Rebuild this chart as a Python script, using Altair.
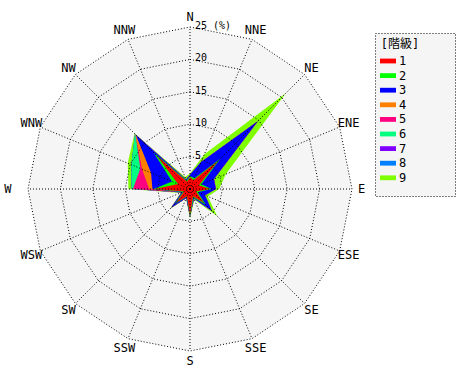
import altair as alt
import pandas as pd
import numpy as np

directions = ["N", "NNE", "NE", "ENE", "E", "ESE", "SE", "SSE",
              "S", "SSW", "SW", "WSW", "W", "WNW", "NW", "NNW"]
classes = ["1", "2", "3", "4", "5", "6", "7", "8", "9"]
colors = ["#ff0000", "#00ff00", "#0000ff", "#ff8000", "#ff0080",
          "#00ff80", "#8000ff", "#0080ff", "#80ff00"]
ring_levels = [5, 10, 15, 20, 25]
ring_labels = ["5", "10", "15", "20", "25 (%)"]
legend_title = "[階級]"

# frequency (%) of each class by direction (N, NNE, ... NNW)
c1 = [1.8, 1.5, 6.1, 1.5, 3.1, 1.0, 3.0, 1.2, 4.0, 1.2, 3.0, 1.0, 5.4, 2.0, 7.2, 1.2]
c2 = [0.2, 0.3, 0.5, 0.4, 0.2, 0.3, 0.5, 0.2, 0.3, 0.1, 0.3, 0.2, 0.2, 1.0, 0.7, 0.2]
c3 = [0.2, 2.7, 8.2, 2.1, 0.7, 1.2, 1.3, 0.2, 0.0, 0.2, 0.8, 0.2, 0.2, 3.5, 3.9, 0.2]
c4 = [0.0, 0.0, 0.0, 0.0, 0.0, 0.0, 0.0, 0.0, 0.0, 0.0, 0.0, 0.0, 0.5, 1.5, 0.1, 0.0]
c5 = [0.0, 0.0, 0.0, 0.0, 0.0, 0.0, 0.0, 0.0, 0.0, 0.0, 0.0, 0.0, 2.5, 0.3, 0.0, 0.0]
c6 = [0.0, 0.0, 0.0, 0.0, 0.0, 0.0, 0.0, 0.0, 0.0, 0.0, 0.0, 0.0, 0.2, 1.5, 0.1, 0.0]
c7 = [0.0, 0.0, 0.0, 0.0, 0.0, 0.0, 0.0, 0.0, 0.0, 0.0, 0.0, 0.0, 0.0, 0.0, 0.0, 0.0]
c8 = [0.0, 0.0, 0.0, 0.0, 0.0, 0.0, 0.0, 0.0, 0.0, 0.0, 0.0, 0.0, 0.0, 0.0, 0.0, 0.0]
c9 = [0.2, 1.3, 6.1, 2.0, 0.5, 0.5, 1.1, 0.2, 0.2, 0.1, 0.2, 0.2, 0.5, 0.6, 0.1, 0.4]
series = [c1, c2, c3, c4, c5, c6, c7, c8, c9]

FONT = "DejaVu Sans Mono, Noto Sans CJK JP, monospace"

# stacked (cumulative) table
rows = []
cum = np.zeros(len(directions))
for k, vals in enumerate(series):
    cum = cum + np.array(vals, dtype=float)
    for i, d in enumerate(directions):
        rows.append({"cls": classes[k], "k": k, "dir": d, "idx": i, "r": float(cum[i])})
df = pd.DataFrame(rows)

ring_df = pd.DataFrame([{"lvl": L, "idx": i} for L in ring_levels for i in range(len(directions))])
dir_df = pd.DataFrame({"dir": directions, "idx": list(range(len(directions)))})
tick_df = pd.DataFrame({"lvl": ring_levels, "label": ring_labels})

xs = alt.Scale(domain=[-25, 25])
ys = alt.Scale(domain=[-25, 25])
X = lambda f: alt.X(f, type="quantitative", scale=xs, axis=None)
Y = lambda f: alt.Y(f, type="quantitative", scale=ys, axis=None)

# legend frame and title (decoration, drawn in pixel space beneath the legend)
one = pd.DataFrame({"t": [legend_title]})
legend_box = alt.Chart(one).mark_rect(
    fill="#f5f5f5", stroke="black", strokeWidth=1, strokeDash=[1, 2]
).encode(x=alt.value(347.5), x2=alt.value(427.5), y=alt.value(6.5), y2=alt.value(169.5))
legend_ttl = alt.Chart(one).mark_text(
    font=FONT, fontSize=12, color="black", align="center", baseline="middle"
).encode(x=alt.value(372), y=alt.value(16.5), text="t:N")

# background polygon
bg = alt.Chart(ring_df).transform_filter(alt.datum.lvl == 25).transform_calculate(
    x="datum.lvl*sin(datum.idx*PI/8)", y="datum.lvl*cos(datum.idx*PI/8)"
).mark_line(filled=True, interpolate="linear-closed", fill="#f5f5f5", strokeWidth=0).encode(
    x=X("x"), y=Y("y"), order="idx:Q")

# class polygons, largest cumulative first
layers = []
for k in reversed(range(len(classes))):
    layers.append(
        alt.Chart(df).transform_filter(alt.datum.k == k).transform_calculate(
            x="datum.r*sin(datum.idx*PI/8)", y="datum.r*cos(datum.idx*PI/8)"
        ).mark_line(filled=True, interpolate="linear-closed", strokeWidth=0).encode(
            x=X("x"), y=Y("y"), order="idx:Q",
            color=alt.Color("cls:N", scale=alt.Scale(domain=classes, range=colors),
                            legend=alt.Legend(
                                title=None,
                                orient="none", legendX=349, legendY=23,
                                symbolType="M-1,-0.3L1,-0.3L1,0.3L-1,0.3Z",
                                symbolSize=256, symbolStrokeWidth=0,
                                rowPadding=0.6, labelOffset=3,
                                padding=3,
                                fillColor="transparent", strokeColor="transparent",
                            ))
        )
    )

rings = alt.Chart(ring_df).transform_calculate(
    x="datum.lvl*sin(datum.idx*PI/8)", y="datum.lvl*cos(datum.idx*PI/8)"
).mark_line(interpolate="linear-closed", color="black", strokeWidth=1, strokeDash=[1, 2]).encode(
    x=X("x"), y=Y("y"), order="idx:Q", detail="lvl:N")

spokes = alt.Chart(dir_df).transform_calculate(
    x0="0", y0="0", x1="25*sin(datum.idx*PI/8)", y1="25*cos(datum.idx*PI/8)"
).mark_rule(color="black", strokeWidth=1, strokeDash=[1, 2]).encode(
    x=X("x0"), y=Y("y0"), x2="x1:Q", y2="y1:Q")

dir_labels = alt.Chart(dir_df).transform_calculate(
    rr="datum.dir == 'W' ? 28.1 : 26.5"
).transform_calculate(
    x="datum.rr*sin(datum.idx*PI/8)", y="datum.rr*cos(datum.idx*PI/8)"
).mark_text(font=FONT, fontSize=12, color="black", align="center", baseline="middle").encode(
    x=X("x"), y=Y("y"), text="dir:N")

tick_labels = alt.Chart(tick_df).transform_calculate(x0="0").mark_text(
    font=FONT, fontSize=10, color="black", align="left", baseline="middle", dx=5, dy=-1
).encode(x=X("x0"), y=Y("lvl"), text="label:N")

chart = alt.layer(legend_box, legend_ttl, bg, *layers, rings, spokes, dir_labels, tick_labels).properties(
    width=324, height=324,
    padding={"left": 28, "top": 27, "right": 118, "bottom": 29},
    autosize="none",
    background="white",
).configure_view(stroke=None).configure_legend(
    labelFont=FONT, labelFontSize=12, labelColor="black"
)

chart.save("out.html", embed_options={"renderer": "svg", "actions": False})
